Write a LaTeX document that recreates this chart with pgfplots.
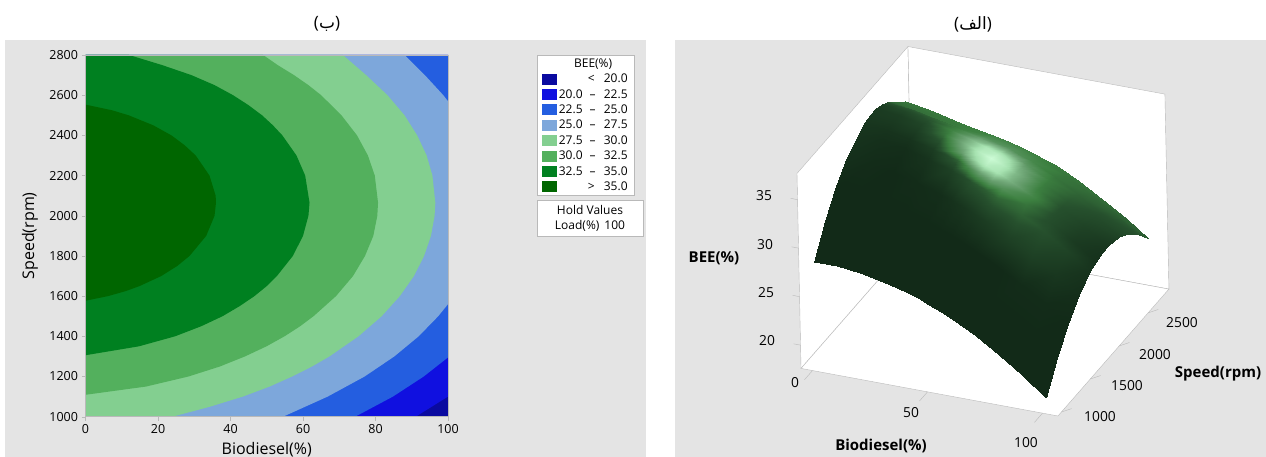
\documentclass[border=0pt]{standalone}
\usepackage{fontspec}
\usepackage{pgfplots}
\pgfplotsset{compat=1.18}
\setmainfont{Open Sans}
\newfontfamily\arabicfont[Script=Arabic]{DejaVu Sans}
\TeXXeTstate=1
\definecolor{panel}{RGB}{228,228,228}
\definecolor{edge}{RGB}{185,185,185}
\definecolor{lva}{RGB}{10,10,160}
\definecolor{lvb}{RGB}{16,16,224}
\definecolor{lvc}{RGB}{36,94,224}
\definecolor{lvd}{RGB}{125,167,219}
\definecolor{lve}{RGB}{131,207,144}
\definecolor{lvf}{RGB}{83,176,93}
\definecolor{lvg}{RGB}{0,128,32}
\definecolor{lvh}{RGB}{0,102,0}
\newcommand{\lab}[2]{\makebox[24pt][r]{#1}\makebox[20pt]{--}\makebox[25pt][r]{#2}}
\newcommand{\one}[2]{\makebox[36pt][r]{#1}\makebox[33pt][r]{#2}}
\begin{document}
\begin{tikzpicture}[x=1pt,y=1pt]
\useasboundingbox (0,0) rectangle (1266,457);
\fill[white] (0,0) rectangle (1266,457);
\fill[panel] (5,0) rectangle (646,417);
\fill[panel] (675,0) rectangle (1266,417);

% contour panel
\begin{axis}[
  at={(85.5pt,40.3pt)}, anchor=south west, scale only axis,
  width=362.5pt, height=361.7pt,
  xmin=0, xmax=100, ymin=1000, ymax=2800,
  xtick={0,20,...,100}, ytick={1000,1200,...,2800},
  tick align=outside, major tick length=4pt,
  tick style={edge}, axis line style={edge, line width=0.8pt},
  xtick pos=bottom, ytick pos=left,
  /pgf/number format/assume math mode=true,
  /pgf/number format/1000 sep={},
  tick label style={font=\fontsize{12.5}{14}\selectfont},
  xlabel={Biodiesel(\%)}, ylabel={Speed(rpm)},
  label style={font=\fontsize{16}{18}\selectfont},
  xlabel style={at={(axis description cs:0.5,0)}, anchor=center, yshift=-33pt},
  ylabel style={at={(axis description cs:0,0.5)}, anchor=center, yshift=55.5pt},
  axis on top,
  legend style={at={(axis description cs:1.2447,1)}, anchor=north west, draw=edge, fill=white,
    font=\fontsize{12}{13}\selectfont, row sep=1.2pt, inner xsep=5pt, inner ysep=1.5pt,
    /tikz/every even column/.append style={column sep=8pt}},
  legend cell align=left,
  legend image code/.code={\fill[#1, draw=none] (0pt,-5.5pt) rectangle (14.7pt,5.5pt);},
]
\addplot[fill=lva, draw=none, forget plot] coordinates {(0,1000) (100,1000) (100,2800) (0,2800)} -- cycle;
\addplot[fill=lvb, draw=none, forget plot] coordinates {(91.1,1000) (100,1100) (100,2800) (0,2800) (0,1000)} -- cycle;
\addplot[fill=lvc, draw=none, forget plot] coordinates {(74.4,1000) (84.8,1100) (93.3,1200) (100,1295) (100,2800) (0,2800) (0,1000)} -- cycle;
\addplot[fill=lvd, draw=none, forget plot] coordinates {(54.5,1000) (66.8,1100) (77,1200) (85.2,1300) (91.9,1400) (97.3,1500) (100,1560) (100,2570) (98.7,2600) (93.6,2700) (88,2800) (0,2800) (0,1000)} -- cycle;
\addplot[fill=lve, draw=none, forget plot] coordinates {(24,1000) (34.4,1050) (43.4,1100) (50.8,1150) (57,1200) (62.5,1250) (67.3,1300) (75.3,1400) (81.7,1500) (86.7,1600) (90.6,1700) (93.4,1800) (95.3,1900) (96.3,2000) (96.5,2065) (95.7,2200) (94.1,2300) (91.5,2400) (88,2500) (83.3,2600) (77.4,2700) (71,2800) (0,2800) (0,1000)} -- cycle;
\addplot[fill=lvf, draw=none, forget plot] coordinates {(0,1109) (16.7,1150) (28.4,1200) (37.1,1250) (44,1300) (49.9,1350) (54.9,1400) (59.2,1450) (62.9,1500) (69.1,1600) (73.8,1700) (77.1,1800) (79.4,1900) (80.5,2000) (80.7,2065) (79.8,2200) (77.9,2300) (74.9,2400) (70.6,2500) (65,2600) (61.5,2650) (57.5,2700) (53,2750) (49,2800) (0,2800)} -- cycle;
\addplot[fill=lvg, draw=none, forget plot] coordinates {(0,1306) (14.7,1350) (24.7,1400) (31.9,1450) (37.8,1500) (42.5,1550) (46.6,1600) (50,1650) (52.8,1700) (57.2,1800) (60,1900) (61.5,2000) (61.8,2065) (60.6,2200) (58.2,2300) (54.3,2400) (51.7,2450) (48.7,2500) (45,2550) (40.7,2600) (35.6,2650) (29.2,2700) (21.1,2750) (12,2800) (0,2800)} -- cycle;
\addplot[fill=lvh, draw=none, forget plot] coordinates {(0,1577) (6.2,1600) (11.1,1625) (14.9,1650) (20.9,1700) (25.3,1750) (28.7,1800) (33.3,1900) (35.6,2000) (36,2065) (35.9,2100) (34.2,2200) (30.4,2300) (27.4,2350) (23.7,2400) (18.7,2450) (11.9,2500) (7.3,2525) (0,2553)} -- cycle;
\addlegendimage{legend image code/.code={}}
\addlegendentry{\makebox[69pt]{BEE(\%)}}
\addlegendimage{fill=lva}\addlegendentry{\one{<}{20.0}}
\addlegendimage{fill=lvb}\addlegendentry{\lab{20.0}{22.5}}
\addlegendimage{fill=lvc}\addlegendentry{\lab{22.5}{25.0}}
\addlegendimage{fill=lvd}\addlegendentry{\lab{25.0}{27.5}}
\addlegendimage{fill=lve}\addlegendentry{\lab{27.5}{30.0}}
\addlegendimage{fill=lvf}\addlegendentry{\lab{30.0}{32.5}}
\addlegendimage{fill=lvg}\addlegendentry{\lab{32.5}{35.0}}
\addlegendimage{fill=lvh}\addlegendentry{\one{>}{35.0}}
\end{axis}

% surface panel
\begin{axis}[
  at={(797pt,41pt)}, anchor=south west,
  x={(2.3pt,-0.426pt)}, y={(0.0578pt,0.0661pt)}, z={(-0.2pt,9.7pt)},
  xmin=-5, xmax=106.7, ymin=940, ymax=2860, zmin=17.6, zmax=37.7,
  hide axis, clip=false,
  colormap={leaf}{rgb255(0)=(18,42,24) rgb255(20)=(38,80,45) rgb255(33)=(60,128,64) rgb255(50)=(105,160,112) rgb255(75)=(165,225,175) rgb255(100)=(205,252,214)},
  point meta min=0, point meta max=1,
]
\addplot3[fill=white, draw=edge] coordinates {(-5,940,17.6) (-5,940,37.7) (-5,2860,37.7) (-5,2860,17.6)} -- cycle;
\addplot3[fill=white, draw=edge] coordinates {(-5,2860,17.6) (-5,2860,37.7) (106.7,2860,37.7) (106.7,2860,17.6)} -- cycle;
\addplot3[fill=white, draw=edge] coordinates {(-5,940,17.6) (106.7,940,17.6) (106.7,2860,17.6) (-5,2860,17.6)} -- cycle;
\addplot3[edge] coordinates {(0,940,17.6) (0,800,17.6)};
\addplot3[edge] coordinates {(50,940,17.6) (50,800,17.6)};
\addplot3[edge] coordinates {(100,940,17.6) (100,800,17.6)};
\addplot3[edge] coordinates {(106.7,1000,17.6) (111.2,1000,18.15)};
\addplot3[edge] coordinates {(106.7,1500,17.6) (111.2,1500,18.15)};
\addplot3[edge] coordinates {(106.7,2000,17.6) (111.2,2000,18.15)};
\addplot3[edge] coordinates {(106.7,2500,17.6) (111.2,2500,18.15)};
\addplot3[edge] coordinates {(-5,940,20) (-8,940,20)};
\addplot3[edge] coordinates {(-5,940,25) (-8,940,25)};
\addplot3[edge] coordinates {(-5,940,30) (-8,940,30)};
\addplot3[edge] coordinates {(-5,940,35) (-8,940,35)};
\addplot3[surf, shader=interp, mesh/rows=13, mesh/cols=13, point meta=\thisrow{m}] table {
x y z m
0 2800 32.16 .30
10 2800 31.77 .31
20 2800 31.23 .32
30 2800 30.73 .33
40 2800 30.28 .33
45 2800 29.94 .33
50 2800 29.57 .33
55 2800 29.16 .33
60 2800 28.71 .32
70 2800 27.49 .30
80 2800 26.11 .28
90 2800 24.58 .26
100 2800 22.89 .24
0 2600 34.04 .30
10 2600 33.65 .31
20 2600 33.11 .32
30 2600 32.61 .33
40 2600 32.16 .35
45 2600 31.82 .36
50 2600 31.45 .36
55 2600 31.04 .35
60 2600 30.59 .33
70 2600 29.37 .30
80 2600 27.99 .27
90 2600 26.46 .24
100 2600 24.77 .20
0 2400 35.33 .27
10 2400 34.94 .28
20 2400 34.40 .30
30 2400 33.90 .33
40 2400 33.45 .40
45 2400 33.11 .43
50 2400 32.74 .43
55 2400 32.33 .41
60 2400 31.88 .37
70 2400 30.66 .30
80 2400 29.28 .25
90 2400 27.75 .20
100 2400 26.06 .16
0 2300 36.05 .20
10 2300 35.71 .22
20 2300 35.22 .25
30 2300 34.67 .33
40 2300 34.07 .50
45 2300 33.68 .58
50 2300 33.26 .60
55 2300 32.80 .55
60 2300 32.30 .45
70 2300 31.08 .32
80 2300 29.70 .24
90 2300 28.17 .18
100 2300 26.48 .13
0 2200 36.47 .12
10 2200 36.16 .15
20 2200 35.69 .20
30 2200 35.12 .34
40 2200 34.44 .62
45 2200 34.03 .80
50 2200 33.58 .88
55 2200 33.09 .75
60 2200 32.57 .55
70 2200 31.35 .32
80 2200 29.97 .22
90 2200 28.44 .16
100 2200 26.75 .10
0 2100 36.75 .09
10 2100 36.46 .10
20 2100 36.02 .14
30 2100 35.42 .30
40 2100 34.67 .62
45 2100 34.23 .86
50 2100 33.76 1
55 2100 33.25 .85
60 2100 32.70 .60
70 2100 31.48 .33
80 2100 30.10 .20
90 2100 28.57 .13
100 2100 26.88 .07
0 2000 36.73 .08
10 2000 36.44 .08
20 2000 36.00 .10
30 2000 35.40 .20
40 2000 34.65 .50
45 2000 34.21 .70
50 2000 33.74 .86
55 2000 33.23 .78
60 2000 32.68 .58
70 2000 31.46 .36
80 2000 30.08 .19
90 2000 28.55 .11
100 2000 26.86 .05
0 1900 36.56 .06
10 1900 36.27 .05
20 1900 35.83 .05
30 1900 35.23 .10
40 1900 34.48 .24
45 1900 34.04 .38
50 1900 33.57 .50
55 1900 33.06 .48
60 1900 32.51 .42
70 1900 31.29 .30
80 1900 29.91 .18
90 1900 28.38 .09
100 1900 26.69 .04
0 1800 36.24 .05
10 1800 35.95 .03
20 1800 35.51 .02
30 1800 34.91 .05
40 1800 34.16 .12
45 1800 33.72 .17
50 1800 33.25 .22
55 1800 32.74 .24
60 1800 32.19 .26
70 1800 30.97 .25
80 1800 29.59 .20
90 1800 28.06 .13
100 1800 26.37 .05
0 1600 35.16 .03
10 1600 34.87 .01
20 1600 34.43 0
30 1600 33.83 .01
40 1600 33.08 .02
45 1600 32.64 .04
50 1600 32.17 .06
55 1600 31.66 .08
60 1600 31.11 .10
70 1600 29.89 .12
80 1600 28.51 .12
90 1600 26.98 .07
100 1600 25.29 .02
0 1400 33.49 0
10 1400 33.20 0
20 1400 32.76 0
30 1400 32.16 0
40 1400 31.41 0
45 1400 30.97 0
50 1400 30.50 0
55 1400 29.99 0
60 1400 29.44 0
70 1400 28.22 0
80 1400 26.84 .01
90 1400 25.31 .01
100 1400 23.62 0
0 1200 31.22 0
10 1200 31.08 0
20 1200 30.74 0
30 1200 30.19 0
40 1200 29.54 0
45 1200 29.10 0
50 1200 28.63 0
55 1200 28.12 0
60 1200 27.57 0
70 1200 26.30 0
80 1200 24.87 0
90 1200 23.29 0
100 1200 21.50 0
0 1000 28.37 0
10 1000 28.38 0
20 1000 28.14 0
30 1000 27.64 0
40 1000 27.09 0
45 1000 26.65 0
50 1000 26.18 0
55 1000 25.67 0
60 1000 25.12 0
70 1000 23.80 0
80 1000 22.32 0
90 1000 20.69 0
100 1000 18.80 0
};
\end{axis}

% hold values box
\node[draw=edge, fill=white, minimum width=106.5pt, minimum height=36.5pt, inner sep=0pt, align=center, font=\fontsize{12}{15}\selectfont] at (590,238.7) {Hold Values\\Load(\%)\hspace{5pt}100};

% panel captions
\node[font=\fontsize{17}{20}\selectfont] at (327,433) {(\arabicfont\beginR ب\endR\rmfamily)};
\node[font=\fontsize{17}{20}\selectfont] at (973,433) {(\arabicfont\beginR الف\endR\rmfamily)};

% surface panel labels
\begin{scope}[font=\fontsize{13.8}{15}\selectfont]
\node at (764,261) {35};
\node at (765,212) {30};
\node at (766,164) {25};
\node at (767,116) {20};
\node at (795,74) {0};
\node at (911,44) {50};
\node at (1026,14) {100};
\node at (1182,134) {2500};
\node at (1155,102) {2000};
\node at (1127,71) {1500};
\node at (1100,40) {1000};
\end{scope}
\begin{scope}[font=\fontsize{15}{17}\selectfont\bfseries]
\node at (714,199) {BEE(\%)};
\node at (1218,83) {Speed(rpm)};
\node at (881,11) {Biodiesel(\%)};
\end{scope}
\end{tikzpicture}
\end{document}
